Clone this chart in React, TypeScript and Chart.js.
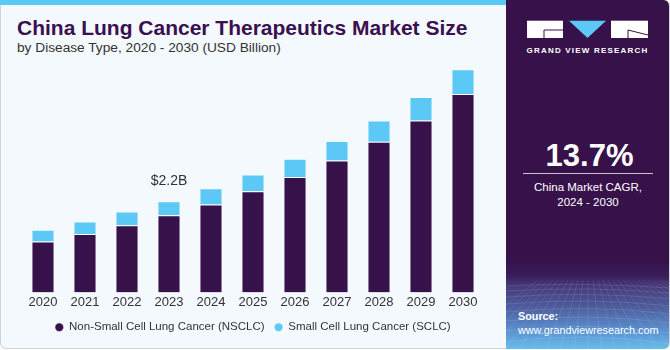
import React, { useEffect, useRef } from "react";
import { Chart, registerables } from "chart.js";

Chart.register(...registerables);

const years = ["2020", "2021", "2022", "2023", "2024", "2025", "2026", "2027", "2028", "2029", "2030"];
const nsclc = [1.23, 1.41, 1.62, 1.86, 2.12, 2.44, 2.78, 3.18, 3.63, 4.14, 4.78];
const sclc = [0.28, 0.3, 0.33, 0.34, 0.39, 0.4, 0.44, 0.47, 0.51, 0.57, 0.6];
const seriesNames = ["Non-Small Cell Lung Cancer (NSCLC)", "Small Cell Lung Cancer (SCLC)"];
const annotationIndex = 3;
const annotationText = "$2.2B";

const DARK = "#37114a";
const BLUE = "#5bc8f5";
const FONT = "'Liberation Sans', Arial, sans-serif";

const annotationPlugin = {
  id: "annot",
  afterDatasetsDraw(chart: any) {
    const meta = chart.getDatasetMeta(1);
    const el = meta.data[annotationIndex];
    if (!el) return;
    const ctx = chart.ctx;
    ctx.save();
    ctx.font = `14px ${FONT}`;
    ctx.fillStyle = "#333333";
    ctx.textAlign = "center";
    ctx.textBaseline = "middle";
    ctx.fillText(annotationText, el.x, el.y - 20);
    ctx.restore();
  },
};

function GridArt() {
  const lines: any[] = [];
  const hs = [286, 291, 297, 304, 312, 321, 331, 342];
  hs.forEach((y, i) => {
    lines.push(
      <path key={"h" + i} d={`M0 ${y - 280} Q 80 ${y - 280 - 4 - i} 165 ${y - 280 + 2}`} stroke="rgba(255,255,255,0.14)" strokeWidth="0.8" fill="none" />
    );
  });
  for (let i = -10; i <= 22; i++) {
    const xTop = 82 + i * 5;
    const xBot = 82 + i * 14;
    lines.push(<line key={"v" + i} x1={xTop} y1={0} x2={xBot} y2={70} stroke="rgba(255,255,255,0.12)" strokeWidth="0.8" />);
  }
  return (
    <svg width="165" height="70" style={{ position: "absolute", left: 0, top: 280 }}>
      {lines}
    </svg>
  );
}

export default function App() {
  const canvasRef = useRef<HTMLCanvasElement | null>(null);

  useEffect(() => {
    const canvas = canvasRef.current;
    if (!canvas) return;
    const chart = new Chart(canvas, {
      type: "bar",
      data: {
        labels: years,
        datasets: [
          {
            label: seriesNames[0],
            data: nsclc,
            backgroundColor: DARK,
            borderColor: "rgba(255,255,255,0.4)",
            borderWidth: 1,
            categoryPercentage: 1,
            barPercentage: 0.55,
          },
          {
            label: seriesNames[1],
            data: sclc,
            backgroundColor: BLUE,
            borderColor: "rgba(255,255,255,0.4)",
            borderWidth: 1,
            categoryPercentage: 1,
            barPercentage: 0.55,
          },
        ],
      },
      options: {
        responsive: false,
        animation: false,
        devicePixelRatio: 1,
        layout: { padding: { left: 22, right: 22, top: 0, bottom: 0 } },
        scales: {
          x: {
            stacked: true,
            grid: { display: false, drawTicks: false },
            border: { display: false },
            ticks: { color: "#333333", font: { family: FONT, size: 13, lineHeight: 1 }, padding: 3 },
          },
          y: { stacked: true, display: false, min: 0, max: 5.6 },
        },
        plugins: {
          legend: {
            position: "bottom",
            labels: {
              usePointStyle: true,
              pointStyle: "circle",
              boxWidth: 8,
              boxHeight: 6,
              padding: 10,
              color: "#333333",
              font: { family: FONT, size: 11.5 },
            },
          },
          tooltip: { enabled: false },
        },
      },
      plugins: [annotationPlugin],
    } as any);
    return () => chart.destroy();
  }, []);

  return (
    <div
      style={{
        position: "fixed",
        left: 0,
        top: 0,
        width: 670,
        height: 350,
        overflow: "hidden",
        fontFamily: FONT,
        background: "#ffffff",
      }}
    >
      {/* left panel */}
      <div
        style={{
          position: "absolute",
          left: 0,
          top: 0,
          width: 505,
          height: 348,
          background: "#f4f9fd",
          border: "1px solid #cfd3d7",
          borderTop: "none",
          borderRadius: "0 0 0 6px",
        }}
      />
      <div style={{ position: "absolute", left: 0, top: 0, width: 506, height: 5, background: BLUE }} />
      <div
        style={{
          position: "absolute",
          left: 17,
          top: 17.2,
          fontSize: 21,
          lineHeight: "21px",
          fontWeight: "bold",
          color: "#3a1050",
          whiteSpace: "nowrap",
        }}
      >
        China Lung Cancer Therapeutics Market Size
      </div>
      <div
        style={{
          position: "absolute",
          left: 17,
          top: 40.5,
          fontSize: 13.7,
          lineHeight: "13.7px",
          color: "#333333",
          whiteSpace: "nowrap",
        }}
      >
        by Disease Type, 2020 - 2030 (USD Billion)
      </div>
      <canvas ref={canvasRef} width={506} height={283} style={{ position: "absolute", left: 0, top: 60, width: 506, height: 283 }} />

      {/* right panel */}
      <div
        style={{
          position: "absolute",
          left: 506,
          top: 0,
          width: 163,
          height: 349,
          background: `linear-gradient(180deg, #37124a 0px, #37124a 262px, #3a1d5c 276px, #463a7a 286px, #4d5a9a 306px, #5a8fcf 330px, #68bdea 349px)`,
          borderRadius: "0 6px 6px 0",
          overflow: "hidden",
          borderRight: "1px solid #cfd3d7",
        }}
      >
        <GridArt />
        {/* logo */}
        <svg width="163" height="40" style={{ position: "absolute", left: 0, top: 18 }}>
          <rect x={21} y={2.7} width={36} height={17.3} fill="#ffffff" />
          <line x1={38} y1={12} x2={57} y2={12} stroke={DARK} strokeWidth={1} />
          <line x1={38} y1={12} x2={38} y2={20} stroke={DARK} strokeWidth={1} />
          <polygon points="63,2.7 100,2.7 81.5,20" fill={BLUE} />
          <rect x={105} y={2.7} width={37} height={17.3} fill="#ffffff" />
          <line x1={122} y1={12} x2={142} y2={17} stroke={DARK} strokeWidth={1} />
          <line x1={122} y1={12} x2={122} y2={20} stroke={DARK} strokeWidth={1} />
        </svg>
        <div
          style={{
            position: "absolute",
            left: 0,
            width: 163,
            top: 46,
            textAlign: "center",
            fontSize: 8,
            lineHeight: "10px",
            fontWeight: "bold",
            letterSpacing: 1.2,
            color: "#ffffff",
          }}
        >
          GRAND VIEW RESEARCH
        </div>
        <div
          style={{
            position: "absolute",
            left: 0,
            width: 167,
            top: 139.8,
            textAlign: "center",
            fontSize: 31,
            lineHeight: "31px",
            fontWeight: "bold",
            color: "#ffffff",
          }}
        >
          13.7%
        </div>
        <div style={{ position: "absolute", left: 16.5, top: 173, width: 130, height: 1, background: "rgba(255,255,255,0.75)" }} />
        <div
          style={{
            position: "absolute",
            left: 0,
            width: 164,
            top: 180,
            textAlign: "center",
            fontSize: 11.5,
            lineHeight: "14.5px",
            color: "#ffffff",
          }}
        >
          China Market CAGR,
          <br />
          2024 - 2030
        </div>
        <div
          style={{
            position: "absolute",
            left: 12,
            top: 310,
            fontSize: 10.8,
            lineHeight: "13.5px",
            color: "#ffffff",
            whiteSpace: "nowrap",
          }}
        >
          <b>Source:</b>
          <br />
          www.grandviewresearch.com
        </div>
      </div>
    </div>
  );
}
